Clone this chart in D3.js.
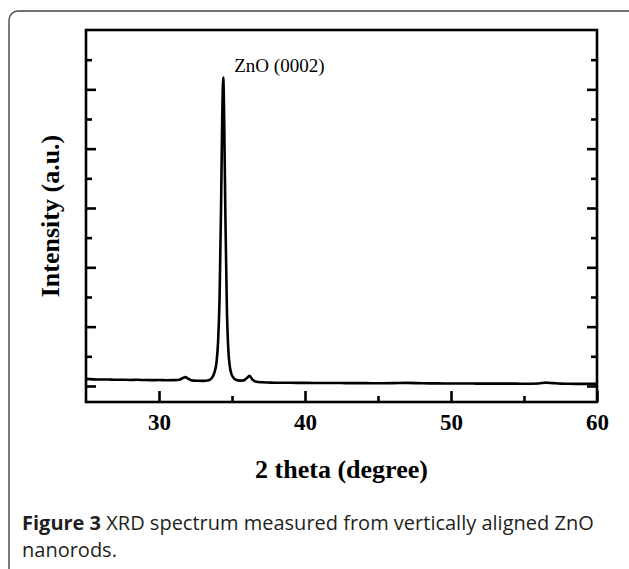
<!DOCTYPE html>
<html>
<head>
<meta charset="utf-8">
<script src="https://cdn.jsdelivr.net/npm/d3@7"></script>
<style>
  html, body { margin: 0; padding: 0; background: #fff; }
  svg { display: block; }
</style>
</head>
<body>
<svg id="chart" width="629" height="569"></svg>
<script>
// ---- data ----
const twoTheta = [25, 25.5, 26, 26.5, 27, 27.5, 28, 28.5, 29, 29.5, 30, 30.5, 31, 31.4, 31.6, 31.8, 32.0, 32.2, 32.6, 33, 33.4, 33.6, 33.8, 33.95, 34.05, 34.15, 34.25, 34.33, 34.4, 34.47, 34.55, 34.65, 34.75, 34.85, 34.95, 35.1, 35.3, 35.5, 35.8, 36.0, 36.2, 36.4, 36.6, 37, 37.5, 38, 39, 40, 41, 42, 43, 44, 45, 46, 47, 48, 49, 50, 51, 52, 53, 54, 55, 56, 56.5, 57, 57.5, 58, 59, 60];
const intensity = [120, 112, 108, 110, 104, 106, 102, 104, 100, 98, 100, 96, 98, 104, 130, 150, 122, 98, 88, 86, 95, 130, 230, 420, 760, 1500, 3000, 4500, 5200, 4400, 2800, 1300, 600, 330, 210, 140, 100, 90, 95, 130, 170, 110, 75, 62, 58, 55, 54, 52, 50, 50, 48, 48, 46, 48, 52, 46, 44, 42, 42, 40, 40, 40, 38, 42, 56, 48, 40, 38, 36, 36];
const xTicksMajor = [30, 40, 50, 60];
const xTicksMinor = [35, 45, 55];
const yTicksMajor = [0, 1000, 2000, 3000, 4000, 5000];
const yTicksMinor = [500, 1500, 2500, 3500, 4500, 5500];
const peakLabel = "ZnO (0002)";
const peakPos = 34.4;
const xTitle = "2 theta (degree)";
const yTitle = "Intensity (a.u.)";
const captionBold = "Figure 3";
const captionLine1 = " XRD spectrum measured from vertically aligned ZnO";
const captionLine2 = "nanorods.";

// ---- layout ----
const svg = d3.select("#chart");
const L = 86, R = 597, T = 30, B = 402;
const x = d3.scaleLinear().domain([25, 60]).range([L, R]);
const y = d3.scaleLinear().domain([-270, 6000]).range([B, T]);

// outer frame
svg.append("rect").attr("x", 9).attr("y", 11).attr("width", 640).attr("height", 600)
  .attr("rx", 9).attr("fill", "none").attr("stroke", "#444").attr("stroke-width", 1.4);

const serif = "'Liberation Serif', 'Times New Roman', serif";

// data line
const line = d3.line().x((d, i) => x(twoTheta[i])).y(d => y(d)).curve(d3.curveMonotoneX);
svg.append("path").datum(intensity).attr("d", line)
  .attr("fill", "none").attr("stroke", "#000").attr("stroke-width", 2.6).attr("stroke-linejoin", "round");

// axes via d3
const axW = 2.6;
const gx = svg.append("g").attr("transform", `translate(0,${B})`)
  .call(d3.axisBottom(x).tickValues(xTicksMajor).tickSize(-11).tickPadding(12).tickFormat(d3.format("d")));
const gxm = svg.append("g").attr("transform", `translate(0,${B})`)
  .call(d3.axisBottom(x).tickValues(xTicksMinor).tickSize(-6).tickFormat(""));
const gy = svg.append("g").attr("transform", `translate(${L},0)`)
  .call(d3.axisLeft(y).tickValues(yTicksMajor).tickSize(-10).tickFormat(""));
const gym = svg.append("g").attr("transform", `translate(${L},0)`)
  .call(d3.axisLeft(y).tickValues(yTicksMinor).tickSize(-6).tickFormat(""));
const gr = svg.append("g").attr("transform", `translate(${R},0)`)
  .call(d3.axisRight(y).tickValues(yTicksMajor).tickSize(-10).tickFormat(""));
const grm = svg.append("g").attr("transform", `translate(${R},0)`)
  .call(d3.axisRight(y).tickValues(yTicksMinor).tickSize(-6).tickFormat(""));
[gx, gxm, gy, gym, gr, grm].forEach(g => {
  g.select(".domain").remove();
  g.selectAll(".tick line").attr("stroke", "#000").attr("stroke-width", axW);
});
gx.selectAll(".tick text").attr("font-family", serif).attr("font-weight", "bold")
  .attr("font-size", 23).attr("fill", "#000");

// frame of plot
svg.append("rect").attr("x", L).attr("y", T).attr("width", R - L).attr("height", B - T)
  .attr("fill", "none").attr("stroke", "#000").attr("stroke-width", axW);

// peak label
svg.append("text").attr("x", x(peakPos) + 11).attr("y", 72)
  .attr("font-family", serif).attr("font-size", 19).attr("fill", "#000").text(peakLabel);

// axis titles
svg.append("text").attr("x", (L + R) / 2).attr("y", 478).attr("text-anchor", "middle")
  .attr("font-family", serif).attr("font-weight", "bold").attr("font-size", 26).attr("fill", "#000")
  .text(xTitle);
svg.append("text").attr("transform", `translate(59,${(T + B) / 2}) rotate(-90)`).attr("text-anchor", "middle")
  .attr("font-family", serif).attr("font-weight", "bold").attr("font-size", 26).attr("fill", "#000")
  .text(yTitle);

// caption
const sans = "'Open Sans', 'Noto Sans', sans-serif";
const cap = svg.append("text").attr("x", 22).attr("y", 530)
  .attr("font-family", sans).attr("font-size", 20).attr("fill", "#231f20");
cap.append("tspan").attr("font-weight", "bold").text(captionBold);
cap.append("tspan").text(captionLine1);
svg.append("text").attr("x", 22).attr("y", 557)
  .attr("font-family", sans).attr("font-size", 20).attr("fill", "#231f20").text(captionLine2);
</script>
</body>
</html>
